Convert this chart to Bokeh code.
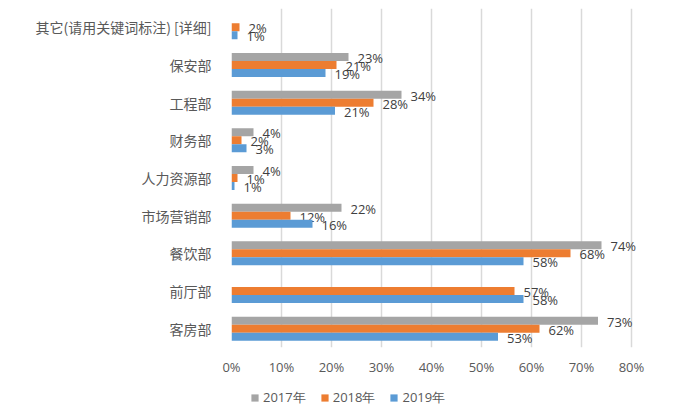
from bokeh.plotting import figure
from bokeh.layouts import column
from bokeh.models import (FactorRange, Range1d, FixedTicker, NumeralTickFormatter,
                          ColumnDataSource, Legend, LegendItem)
from bokeh.transform import dodge
from bokeh.core.properties import value
from bokeh.embed import file_html
from bokeh.resources import INLINE

# categories, top to bottom as in the chart
categories = ["其它(请用关键词标注) [详细]", "保安部", "工程部", "财务部", "人力资源部",
              "市场营销部", "餐饮部", "前厅部", "客房部"]
years = ["2017年", "2018年", "2019年"]
v2017 = [0.0, 0.234, 0.340, 0.044, 0.044, 0.220, 0.740, 0.0, 0.733]
v2018 = [0.016, 0.210, 0.284, 0.020, 0.012, 0.118, 0.678, 0.566, 0.616]
v2019 = [0.012, 0.188, 0.207, 0.030, 0.006, 0.162, 0.584, 0.584, 0.533]
x_ticks = [0.0, 0.1, 0.2, 0.3, 0.4, 0.5, 0.6, 0.7, 0.8]

colors = ["#A5A5A5", "#ED7D31", "#5B9BD5"]
offsets = [0.212, 0.0, -0.212]
series = [v2017, v2018, v2019]

LATIN = "Open Sans"
CJK = "Noto Sans CJK SC"

p = figure(width=673, height=378, output_backend="svg", toolbar_location=None,
           y_range=FactorRange(*categories[::-1], range_padding=0),
           x_range=Range1d(0, 0.85),
           min_border_left=231, min_border_right=17, min_border_top=8, min_border_bottom=30,
           background_fill_color="white", border_fill_color="white")
p.outline_line_color = None

for name, vals, col, off in zip(years, series, colors, offsets):
    src = ColumnDataSource(dict(cat=categories, val=vals))
    p.hbar(y=dodge("cat", off, range=p.y_range), right="val", left=0,
           height=0.212, fill_color=col, line_color=None, source=src)
    lab_cat = [c for c, v in zip(categories, vals) if v > 0]
    lab_val = [v for v in vals if v > 0]
    lab_txt = ["%d%%" % round(v * 100) for v in lab_val]
    lsrc = ColumnDataSource(dict(cat=lab_cat, val=lab_val, txt=lab_txt))
    p.text(x="val", y=dodge("cat", off, range=p.y_range), text="txt", source=lsrc,
           x_offset=9, y_offset=1, text_align="left", text_baseline="middle",
           text_font=value(LATIN), text_font_size="13px", text_color="#404040")

p.xaxis.ticker = FixedTicker(ticks=x_ticks)
p.xaxis.formatter = NumeralTickFormatter(format="0%")
p.xaxis.axis_line_color = None
p.xaxis.major_tick_line_color = None
p.xaxis.minor_tick_line_color = None
p.xaxis.major_label_standoff = 4
p.xaxis.major_label_text_font = LATIN
p.xaxis.major_label_text_font_size = "13px"
p.xaxis.major_label_text_color = "#595959"

p.yaxis.axis_line_color = None
p.yaxis.major_tick_line_color = None
p.yaxis.minor_tick_line_color = None
p.yaxis.major_label_standoff = 14
p.yaxis.major_label_text_font = CJK
p.yaxis.major_label_text_font_size = "14px"
p.yaxis.major_label_text_color = "#595959"

p.ygrid.grid_line_color = None
p.xgrid.grid_line_color = "#D9D9D9"
p.xgrid.grid_line_width = 1.5

# legend strip below the chart (its bars lie outside its view, only the legend shows)
lg = figure(width=673, height=38, output_backend="svg", toolbar_location=None,
            x_range=Range1d(2, 3), y_range=Range1d(2, 3),
            x_axis_location=None, y_axis_location=None,
            min_border_left=231, min_border_right=17, min_border_top=0, min_border_bottom=0,
            background_fill_color="white", border_fill_color="white")
lg.outline_line_color = None
lg.grid.grid_line_color = None
items = []
for name, vals, col in zip(years, series, colors):
    lsrc2 = ColumnDataSource(dict(val=vals))
    r = lg.hbar(y="val", right="val", left=0, height=0.1, fill_color=col,
                line_color=None, source=lsrc2)
    items.append(LegendItem(label=name, renderers=[r]))
legend = Legend(items=items, orientation="horizontal", location=(19, 9),
                glyph_width=9, glyph_height=9, label_standoff=4, spacing=14,
                label_height=20, padding=0, margin=0, border_line_color=None,
                background_fill_alpha=0,
                label_text_font=LATIN, label_text_font_size="13px",
                label_text_color="#595959")
lg.add_layout(legend, "center")

layout = column(p, lg, spacing=0)
open("out.html", "w").write(file_html(layout, INLINE))
